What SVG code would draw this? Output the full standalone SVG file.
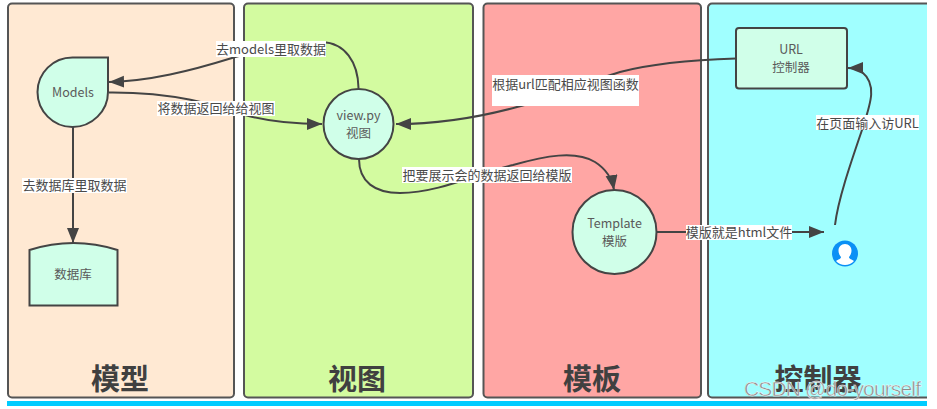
<svg xmlns="http://www.w3.org/2000/svg" width="937" height="409" viewBox="0 0 937 409">
<style>
text{font-family:"Noto Sans CJK SC","Noto Sans",sans-serif;fill:#555;text-anchor:middle}
.panel{stroke:#555;stroke-width:2}
.node{fill:#d0ffe9;stroke:#444;stroke-width:2}
.t{font-size:12.5px;fill:#5a5a5a}
.l{font-size:13px;fill:#4a4a4a}
.bg{fill:#fff}
.title{font-size:29px;font-weight:700;fill:#404040}
.c{fill:none;stroke:#444;stroke-width:2;marker-end:url(#a)}
.wm{font-family:"Liberation Sans",Arial,sans-serif;font-size:21px;fill:#8c8c8c;stroke:#fff;stroke-width:.4;text-anchor:start}
</style>
<defs>
<marker id="a" markerUnits="userSpaceOnUse" markerWidth="16" markerHeight="14" refX="15" refY="6" orient="auto">
<path d="M0 0L15 6L0 12Z" fill="#444"/>
</marker>
</defs>
<rect width="937" height="409" fill="#fff"/>
<g id="bar"><rect x="7" y="401" width="920" height="5" fill="#00ccff"/></g>
<g id="panel-model"><rect class="panel" x="8" y="3.500" width="226" height="394" rx="4" fill="#ffe9d3"/><text class="title" x="120" y="390">模型</text></g>
<g id="panel-view"><rect class="panel" x="244" y="3.500" width="229" height="394" rx="4" fill="#d3fba0"/><text class="title" x="357" y="390">视图</text></g>
<g id="panel-template"><rect class="panel" x="483.500" y="3.500" width="217.500" height="394" rx="4" fill="#ffa6a4"/><text class="title" x="592" y="390">模板</text></g>
<g id="panel-controller"><path class="panel" d="M927 3.500H712a4 4 0 0 0-4 4V393.500a4 4 0 0 0 4 4H927" fill="#a0ffff"/><text class="title" x="818" y="390">控制器</text></g>
<g id="connectors">
<path class="c" d="M358.500 88C358 62 345 43 322 42C290 41 260 50 232 58C190 71 150 81 109 82"/>
<path class="c" d="M109 92.500C175 92 215 105 245 115C270 122 295 124 322 124"/>
<path class="c" d="M73 127V243"/>
<path class="c" d="M736 58.500C690 60 650 64 620 72C580 84 550 100 517 107C480 117 440 124 396 124"/>
<path class="c" d="M359 159C359 182 375 193 400 193C440 193 480 172 513 165C545 156 575 150 595 162C606 169 612 178 614 190"/>
<path class="c" d="M657 232H824"/>
<path class="c" d="M835 225C838 200 850 165 862 130C870 105 878 85 862 72C858 69 854 68 848 68"/>
</g>
<g id="models"><path class="node" d="M108 57.500H72.500C53 57.500 37.500 73 37.500 92C37.500 111 53 127 72.500 127C92 127 108 111 108 92Z"/><text class="t" x="73" y="97">Models</text></g>
<g id="database"><path class="node" d="M29.500 250Q73.500 236 117.500 250V305.500H29.500Z"/><text class="t" x="73" y="279">数据库</text></g>
<g id="view"><circle class="node" cx="358.500" cy="124" r="35"/><text class="t" x="358.500" y="120">view.py</text><text class="t" x="358.500" y="138">视图</text></g>
<g id="template"><circle class="node" cx="614.500" cy="232" r="42"/><text class="t" x="614.500" y="228">Template</text><text class="t" x="614.500" y="246">模版</text></g>
<g id="controller"><rect class="node" x="736" y="28" width="111" height="60.500" rx="3"/><text class="t" x="791" y="54">URL</text><text class="t" x="791" y="72">控制器</text></g>
<g id="user"><circle cx="845" cy="253.500" r="13" fill="#0a90f5"/><path d="M845 244c-4 0-6.500 3-6.500 6.500c0 3 1.500 5.500 2.500 6.500c0 2-3 2.500-5 4a12 12 0 0 0 18 0c-2-1.500-5-2-5-4c1-1 2.500-3.500 2.500-6.500c0-3.500-2.500-6.500-6.500-6.500Z" fill="#fff"/></g>
<g id="labels">
<rect class="bg" x="216" y="41" width="110" height="16"/><text class="l" x="271" y="54">去models里取数据</text>
<rect class="bg" x="157" y="101" width="118" height="15"/><text class="l" x="216" y="113">将数据返回给给视图</text>
<rect class="bg" x="22" y="178" width="105" height="15"/><text class="l" x="74.500" y="190">去数据库里取数据</text>
<rect class="bg" x="492" y="75" width="147" height="31"/><text class="l" x="565.500" y="89">根据url匹配相应视图函数</text>
<rect class="bg" x="402" y="167" width="170" height="16"/><text class="l" x="487" y="180">把要展示会的数据返回给模版</text>
<rect class="bg" x="686" y="225" width="106" height="15"/><text class="l" x="739" y="237">模版就是html文件</text>
<rect class="bg" x="816" y="115" width="103" height="15"/><text class="l" x="867.500" y="128">在页面输入访URL</text>
</g>
<text class="wm" x="744" y="396" textLength="177">CSDN @do-yourself</text>
</svg>
